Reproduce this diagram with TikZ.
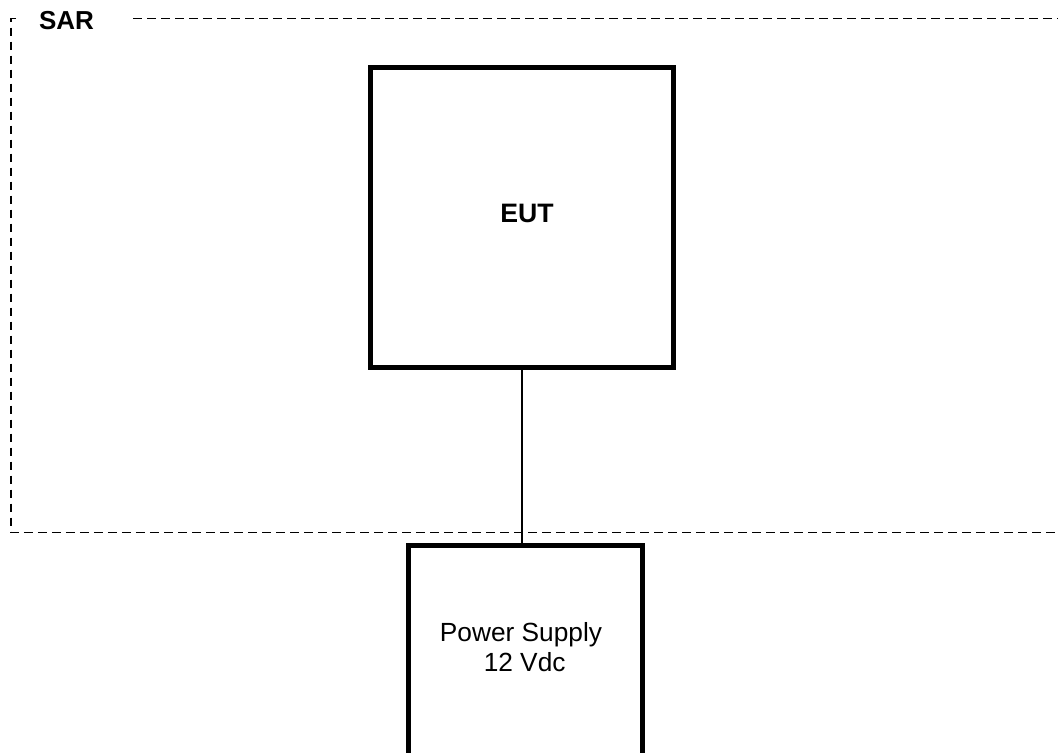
\documentclass[tikz,border=0pt]{standalone}
\usepackage{fontspec}
\setmainfont{Liberation Sans}
\tikzset{unit box/.style={draw=black, line width=3.75pt, fill=white, inner sep=0pt}}
\tikzset{unit text/.style={inner sep=0pt, align=center, font=\fontsize{19.7pt}{22.5pt}\selectfont}}
\tikzset{area line/.style={line width=1.35pt, dash pattern=on 6.4pt off 4.1pt}}
\tikzset{area label/.style={inner sep=0pt, font=\fontsize{19.5pt}{22pt}\selectfont\bfseries}}
\tikzset{cable/.style={line width=0.9pt}}

\begin{document}
\begin{tikzpicture}[x=0.75pt, y=-0.75pt]
    \newcommand\posEUT{522}
    \newcommand\posPSU{525}

    \useasboundingbox (0,0) rectangle (1058,753);
    \clip (0,0) rectangle (1058,753);

    % SAR area, open to the right
    \draw[area line] (16,18.5) -- (11,18.5) -- (11,532.5) -- (1080,532.5);
    \draw[area line] (133,18.5) -- (1080,18.5);
    \node[area label] (labSAR) at (66.5,21) {SAR};

    \node[unit box, minimum width=227.25pt, minimum height=225pt] (EUT) at (\posEUT, 217.5) {};
    \node[unit box, minimum width=175.5pt, minimum height=225pt] (PSU) at (\posPSU, 695) {};

    \node[unit text, font=\fontsize{20pt}{22.5pt}\selectfont\bfseries] (labEUT) at (\posEUT + 5, 213) {EUT};
    \node[unit text] (labPSU) at (521, 647) {Power Supply\\~12 Vdc};

    \draw[cable] (EUT.south) -- (EUT.south |- PSU.north);
\end{tikzpicture}
\end{document}
